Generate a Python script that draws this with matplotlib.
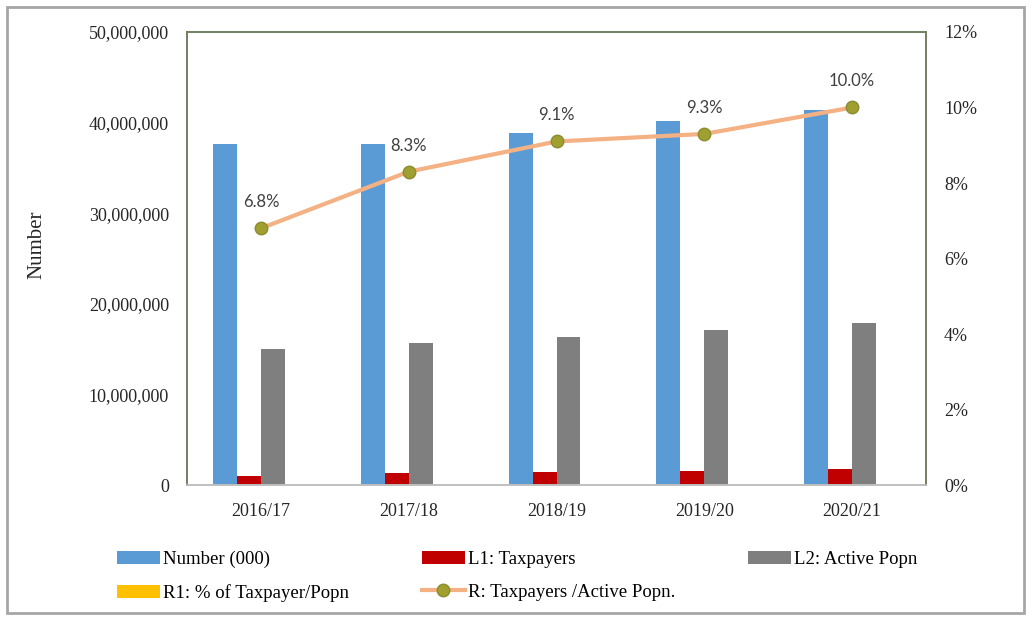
import numpy as np
import matplotlib
matplotlib.use('Agg')
from matplotlib import pyplot as plt
from matplotlib.ticker import FuncFormatter, MultipleLocator
from matplotlib.patches import Rectangle

# chart data
years = ['2016/17', '2017/18', '2018/19', '2019/20', '2020/21']
number_000 = [37600000, 37600000, 38900000, 40200000, 41400000]
taxpayers = [1020000, 1300000, 1480000, 1590000, 1790000]
active_popn = [15000000, 15700000, 16300000, 17100000, 17900000]
r1_pct = [0, 0, 0, 0, 0]  # drawn as empty bars in the source chart
ratio = [6.8, 8.3, 9.1, 9.3, 10.0]

plt.rcParams['font.family'] = ['Liberation Serif', 'DejaVu Serif']

fig = plt.figure(figsize=(10.31, 6.2), dpi=100)
ax = fig.add_axes([0.1814, 0.2177, 0.7168, 0.7307])
ax2 = ax.twinx()

x = np.arange(len(years))
w = 0.162
b1 = ax.bar(x - 1.5 * w, number_000, w, color='#5B9BD5', label='Number (000)')
b2 = ax.bar(x - 0.5 * w, taxpayers, w, color='#C00000', label='L1: Taxpayers')
b3 = ax.bar(x + 0.5 * w, active_popn, w, color='#7F7F7F', label='L2: Active Popn')
b4 = ax.bar(x + 1.5 * w, r1_pct, w, color='#FFC000', label='R1: % of Taxpayer/Popn')

ax.set_xlim(-0.5, len(years) - 0.5)
ax.set_ylim(0, 50000000)
ax.yaxis.set_major_locator(MultipleLocator(10000000))
ax.yaxis.set_major_formatter(FuncFormatter(lambda v, p: f'{int(v):,}'))
ax.set_xticks(x)
ax.set_xticklabels(years)
ax.tick_params(length=0, labelsize=13, colors='#262626')
ax.tick_params(axis='y', pad=13)
ax.tick_params(axis='x', pad=13)
ax.set_ylabel('Number', fontsize=15, color='#262626')
ax.yaxis.set_label_coords(-0.19, 0.53)

line, = ax2.plot(x, ratio, color='#F4B183', lw=3, marker='o', markersize=9,
                 markerfacecolor='#A0A030', markeredgecolor='#8C8C30',
                 label='R: Taxpayers /Active Popn.')
for xi, r in zip(x, ratio):
    ax2.annotate(f'{r:.1f}%', (xi, r), xytext=(0, 13), textcoords='offset points',
                 ha='center', va='bottom', fontsize=12, color='#404040',
                 family=['Lato', 'DejaVu Sans'])
ax2.set_ylim(0, 12)
ax2.yaxis.set_major_locator(MultipleLocator(2))
ax2.yaxis.set_major_formatter(FuncFormatter(lambda v, p: f'{int(v)}%'))
ax2.tick_params(length=0, labelsize=13, colors='#262626', pad=13)

for a in (ax, ax2):
    for s in ('top', 'left', 'right'):
        a.spines[s].set_color('#708060')
        a.spines[s].set_linewidth(1.2)
    a.spines['bottom'].set_color('#BFBFBF')
    a.spines['bottom'].set_linewidth(1.2)

# legend, order so that rows read across
handles = [b1, b4, b2, line, b3]
labels = [h.get_label() for h in handles]
fig.legend(handles, labels, loc='upper left', bbox_to_anchor=(0.106, 0.124),
           ncol=3, frameon=False, fontsize=13.5, handlelength=2.3,
           handletextpad=0.15, columnspacing=3.9, labelspacing=0.85,
           borderaxespad=0)

# outer border
fig.patches.append(Rectangle((0.007, 0.011), 0.986, 0.978, transform=fig.transFigure,
                             fill=False, edgecolor='#A6A6A6', lw=2))

plt.savefig('out.png', dpi=100)
